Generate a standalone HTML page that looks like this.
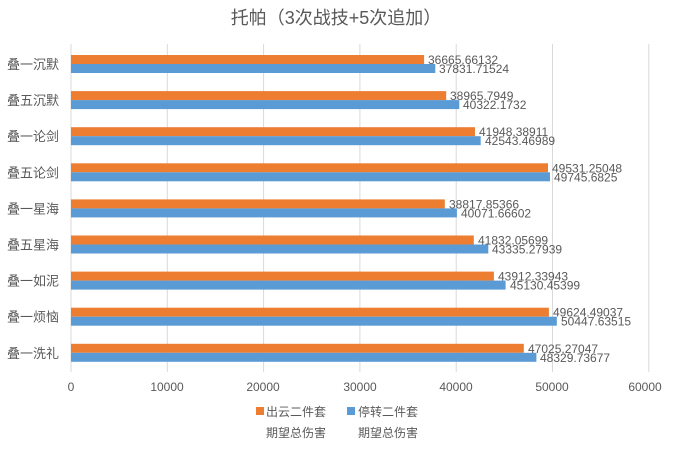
<!DOCTYPE html><html><head><meta charset="utf-8"><style>
body{margin:0;background:#fff;}
svg text{font-family:"Liberation Sans","Noto Sans CJK SC",sans-serif;fill:#595959;}
</style></head><body>
<svg width="673" height="446" xmlns="http://www.w3.org/2000/svg">
<text x="336" y="24" font-size="18" text-anchor="middle">托帕（3次战技+5次追加）</text>
<g stroke="#d9d9d9" stroke-width="1">
<line x1="71" y1="44" x2="71" y2="372"/><line x1="167.3" y1="44" x2="167.3" y2="372"/><line x1="263.6" y1="44" x2="263.6" y2="372"/><line x1="359.9" y1="44" x2="359.9" y2="372"/><line x1="456.2" y1="44" x2="456.2" y2="372"/><line x1="552.5" y1="44" x2="552.5" y2="372"/><line x1="648.8" y1="44" x2="648.8" y2="372"/>
</g>
<g font-size="12" text-anchor="middle">
<text x="71" y="391">0</text><text x="167" y="391">10000</text><text x="263" y="391">20000</text><text x="360" y="391">30000</text><text x="456" y="391">40000</text><text x="552" y="391">50000</text><text x="645" y="391">60000</text>
</g>
<g font-size="13">
<text x="7" y="69">叠一沉默</text><text x="7" y="105.1">叠五沉默</text><text x="7" y="141.2">叠一论剑</text><text x="7" y="177.3">叠五论剑</text><text x="7" y="213.4">叠一星海</text><text x="7" y="249.5">叠五星海</text><text x="7" y="285.6">叠一如泥</text><text x="7" y="321.7">叠一烦恼</text><text x="7" y="357.8">叠一洗礼</text>
</g>
<g fill="#ed7d31">
<rect x="71" y="55" width="353.1" height="9"/><rect x="71" y="91.1" width="375.2" height="9"/><rect x="71" y="127.2" width="404" height="9"/><rect x="71" y="163.3" width="477" height="9"/><rect x="71" y="199.4" width="373.8" height="9"/><rect x="71" y="235.5" width="402.8" height="9"/><rect x="71" y="271.6" width="422.9" height="9"/><rect x="71" y="307.7" width="477.9" height="9"/><rect x="71" y="343.8" width="452.8" height="9"/>
</g>
<g fill="#5b9bd5">
<rect x="71" y="64" width="364.3" height="9"/><rect x="71" y="100.1" width="388.3" height="9"/><rect x="71" y="136.2" width="409.7" height="9"/><rect x="71" y="172.3" width="479" height="9"/><rect x="71" y="208.4" width="385.9" height="9"/><rect x="71" y="244.5" width="417.3" height="9"/><rect x="71" y="280.6" width="434.6" height="9"/><rect x="71" y="316.7" width="485.8" height="9"/><rect x="71" y="352.8" width="465.4" height="9"/>
</g>
<g font-size="12">
<text x="428" y="64">36665.66132</text><text x="439" y="73">37831.71524</text>
<text x="450" y="100.1">38965.7949</text><text x="463" y="109.1">40322.1732</text>
<text x="479" y="136.2">41948.38911</text><text x="485" y="145.2">42543.46989</text>
<text x="552" y="172.3">49531.25048</text><text x="554" y="181.3">49745.6825</text>
<text x="449" y="208.4">38817.85366</text><text x="461" y="217.4">40071.66602</text>
<text x="478" y="244.5">41832.05699</text><text x="492" y="253.5">43335.27939</text>
<text x="498" y="280.6">43912.33943</text><text x="510" y="289.6">45130.45399</text>
<text x="553" y="316.7">49624.49037</text><text x="561" y="325.7">50447.63515</text>
<text x="528" y="352.8">47025.27047</text><text x="540" y="361.8">48329.73677</text>
</g>
<rect x="256" y="407" width="8" height="8" fill="#ed7d31"/><text x="266" y="416" font-size="12">出云二件套</text><text x="266" y="437" font-size="12">期望总伤害</text>
<rect x="347" y="407" width="8" height="8" fill="#5b9bd5"/><text x="358" y="416" font-size="12">停转二件套</text><text x="358" y="437" font-size="12">期望总伤害</text>
</svg></body></html>
